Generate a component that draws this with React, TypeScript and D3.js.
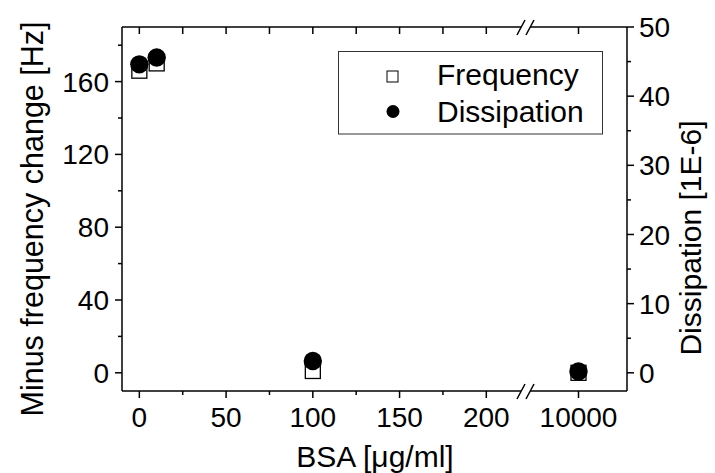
import React from 'react';
import * as d3 from 'd3';

const concentrations = [0, 10, 100, 10000];
const frequency = [166, 170, 1, 0];
const dissipation = [44.6, 45.6, 1.7, 0.2];

const leftTicks = [0, 40, 80, 120, 160];
const leftMinor = [20, 60, 100, 140, 180];
const rightTicks = [0, 10, 20, 30, 40, 50];
const rightMinor = [5, 15, 25, 35, 45];
const xTicksLow = [0, 50, 100, 150, 200];
const xMinorLow = [25, 75, 125, 175];
const xTicksHigh = [10000];

const legendItems = ["Frequency", "Dissipation"];

const FONT = '"Liberation Sans", Arial, sans-serif';

class App extends React.Component<{}, {}> {
  svgRef: React.RefObject<SVGSVGElement>;

  constructor(props: {}) {
    super(props);
    this.svgRef = React.createRef();
    this.d3Render = this.d3Render.bind(this);
  }

  d3Render() {
    const svg = d3.select(this.svgRef.current);
    svg.selectAll("*").remove();

    const left = 122, right = 627, top = 27, bottom = 391;
    const breakL = 521, breakR = 530;

    const xLow = d3.scaleLinear().domain([-10, 220]).range([left, breakL]);
    const xHigh = d3.scaleLinear().domain([9750, 10250]).range([breakR, right]);
    const x = (v: number) => (v <= 220 ? xLow(v) : xHigh(v));

    const yLeft = d3.scaleLinear().domain([-10, 190]).range([bottom, top]);
    const yRight = d3.scaleLinear().domain([-50 / 19, 50]).range([bottom, top]);

    const g = svg.append("g");

    // frame lines, with a gap where the x axis breaks
    const line = (x1: number, y1: number, x2: number, y2: number, w = 1.5) =>
      g.append("line")
        .attr("x1", x1).attr("y1", y1).attr("x2", x2).attr("y2", y2)
        .attr("stroke", "#000").attr("stroke-width", w);

    line(left, top, left, bottom);
    line(right, top, right, bottom);
    [top, bottom].forEach((yy) => {
      line(left, yy, breakL, yy);
      line(breakR, yy, right, yy);
      // break marks
      line(breakL - 4, yy + 8, breakL + 4, yy - 7, 1.5);
      line(breakR - 4, yy + 8, breakR + 4, yy - 7, 1.5);
    });

    // x ticks
    const xMajor = xTicksLow.map(xLow).concat(xTicksHigh.map(xHigh));
    const xMinor = xMinorLow.map(xLow);
    xMajor.forEach((px) => {
      line(px, bottom, px, bottom + 7);
      line(px, top, px, top + 7);
    });
    xMinor.forEach((px) => {
      line(px, bottom, px, bottom + 4);
      line(px, top, px, top + 7);
    });

    const xLabels = xTicksLow.map((t) => ({ t, px: xLow(t) }))
      .concat(xTicksHigh.map((t) => ({ t, px: xHigh(t) })));
    g.selectAll(".xlabel")
      .data(xLabels)
      .enter()
      .append("text")
      .attr("x", (d) => d.px)
      .attr("y", bottom + 36)
      .attr("text-anchor", "middle")
      .attr("font-size", 28)
      .attr("font-family", FONT)
      .text((d) => d.t);

    // left axis
    leftTicks.forEach((t) => line(left - 7, yLeft(t), left, yLeft(t)));
    leftMinor.forEach((t) => line(left - 4, yLeft(t), left, yLeft(t)));
    g.selectAll(".ylabel")
      .data(leftTicks)
      .enter()
      .append("text")
      .attr("x", left - 13)
      .attr("y", (d) => yLeft(d))
      .attr("dy", "0.36em")
      .attr("text-anchor", "end")
      .attr("font-size", 28)
      .attr("font-family", FONT)
      .text((d) => d);

    // right axis
    rightTicks.forEach((t) => line(right, yRight(t), right + 7, yRight(t)));
    rightMinor.forEach((t) => line(right, yRight(t), right + 4, yRight(t)));
    g.selectAll(".y2label")
      .data(rightTicks)
      .enter()
      .append("text")
      .attr("x", right + 12)
      .attr("y", (d) => yRight(d))
      .attr("dy", "0.36em")
      .attr("font-size", 28)
      .attr("font-family", FONT)
      .text((d) => d);

    // axis titles
    g.append("text")
      .attr("x", 375)
      .attr("y", 467)
      .attr("text-anchor", "middle")
      .attr("font-size", 30)
      .attr("font-family", FONT)
      .text("BSA [\u03bcg/ml]");

    g.append("text")
      .attr("transform", "translate(43,219) rotate(-90)")
      .attr("text-anchor", "middle")
      .attr("font-size", 30.5)
      .attr("font-family", FONT)
      .text("Minus frequency change [Hz]");

    g.append("text")
      .attr("transform", "translate(701,238) rotate(-90)")
      .attr("text-anchor", "middle")
      .attr("font-size", 30)
      .attr("font-family", FONT)
      .text("Dissipation [1E-6]");

    // frequency squares
    const sq = 15;
    g.selectAll(".freq")
      .data(concentrations)
      .enter()
      .append("rect")
      .attr("x", (d) => x(d) - sq / 2)
      .attr("y", (d, i) => yLeft(frequency[i]) - sq / 2)
      .attr("width", sq)
      .attr("height", sq)
      .attr("fill", "#fff")
      .attr("stroke", "#000")
      .attr("stroke-width", 1.3);

    // dissipation circles
    g.selectAll(".diss")
      .data(concentrations)
      .enter()
      .append("circle")
      .attr("cx", (d) => x(d))
      .attr("cy", (d, i) => yRight(dissipation[i]))
      .attr("r", 9.2)
      .attr("fill", "#000");

    // legend
    g.append("rect")
      .attr("x", 338.5).attr("y", 51.5)
      .attr("width", 264).attr("height", 82.5)
      .attr("fill", "#fff")
      .attr("stroke", "#333")
      .attr("stroke-width", 1);

    g.append("rect")
      .attr("x", 387).attr("y", 71)
      .attr("width", 11).attr("height", 11)
      .attr("fill", "#fff").attr("stroke", "#000").attr("stroke-width", 1);
    g.append("circle")
      .attr("cx", 393).attr("cy", 111.5).attr("r", 6.5).attr("fill", "#000");

    g.selectAll(".legtext")
      .data(legendItems)
      .enter()
      .append("text")
      .attr("x", 437)
      .attr("y", (d, i) => 85 + i * 36.5)
      .attr("font-size", 30)
      .attr("font-family", FONT)
      .text((d) => d);
  }

  componentDidMount() {
    this.d3Render();
  }

  componentDidUpdate() {
    this.d3Render();
  }

  render() {
    return (
      <svg
        ref={this.svgRef}
        width="715"
        height="473"
        style={{ position: "absolute", left: 0, top: 0, background: "#fff" }}
      ></svg>
    );
  }
}

export default App;
